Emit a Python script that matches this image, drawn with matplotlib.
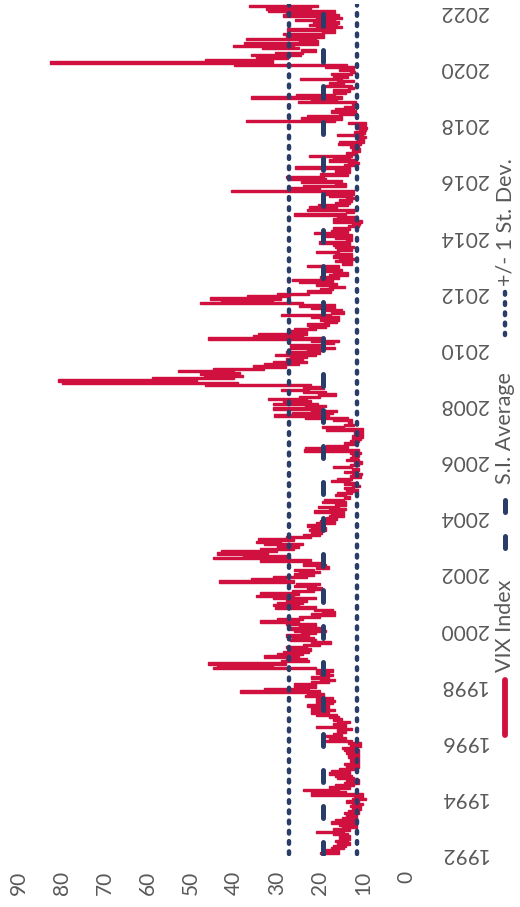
import matplotlib.pyplot as plt
import numpy as np

# --- Monthly VIX range (daily closes), Jan 1992 - Mar 2022 ---
vix_high = [
    20.0, 18.5, 17.5, 17.0, 16.0, 16.5, 15.5, 15.5, 17.0, 21.0, 17.0, 15.0,   # 1992
    15.5, 17.5, 16.5, 15.0, 14.0, 14.5, 13.5, 12.5, 13.0, 12.5, 14.0, 12.5,   # 1993
    12.0, 22.0, 22.0, 24.0, 18.0, 16.5, 14.5, 14.0, 16.0, 16.5, 18.0, 17.5,   # 1994
    15.5, 14.0, 14.5, 13.0, 13.0, 13.5, 13.5, 14.0, 14.5, 15.0, 13.0, 13.5,   # 1995
    18.5, 18.0, 19.0, 17.0, 16.0, 16.0, 21.0, 17.0, 16.0, 17.0, 18.0, 21.0,   # 1996
    22.0, 22.0, 22.0, 23.0, 21.0, 21.0, 21.0, 23.5, 23.0, 38.5, 33.0, 26.0,   # 1997
    26.0, 22.0, 20.0, 22.0, 20.0, 21.0, 21.0, 45.0, 44.0, 46.0, 29.0, 28.0,   # 1998
    33.0, 30.0, 28.5, 27.5, 28.0, 24.0, 22.0, 27.0, 26.5, 28.0, 24.5, 26.0,   # 1999
    27.0, 25.0, 28.0, 34.0, 30.0, 25.0, 22.0, 19.5, 21.5, 30.5, 31.0, 30.0,   # 2000
    28.0, 31.0, 35.0, 34.0, 26.5, 23.0, 26.0, 25.5, 43.5, 36.0, 31.0, 26.0,   # 2001
    25.0, 26.0, 21.0, 24.0, 24.0, 34.0, 45.0, 38.0, 44.0, 43.0, 34.0, 30.0,   # 2002
    33.0, 35.0, 34.5, 28.0, 24.0, 22.0, 22.5, 22.0, 23.0, 21.0, 20.0, 18.5,   # 2003
    18.0, 17.5, 21.5, 18.0, 20.5, 16.5, 19.5, 19.0, 14.5, 16.5, 16.0, 14.0,   # 2004
    14.5, 12.5, 14.5, 17.5, 16.0, 13.0, 12.5, 14.5, 12.5, 17.0, 13.0, 12.0,   # 2005
    14.0, 13.0, 12.5, 13.0, 23.8, 23.5, 18.5, 14.5, 13.0, 12.5, 12.5, 12.0,   # 2006
    12.0, 18.5, 19.5, 14.5, 13.5, 17.0, 23.5, 30.8, 26.5, 22.0, 31.0, 23.5,   # 2007
    31.0, 28.5, 32.2, 25.0, 20.5, 24.0, 29.0, 24.0, 46.7, 80.0, 80.9, 59.0,   # 2008
    47.0, 48.0, 53.0, 45.0, 35.5, 33.0, 31.0, 28.0, 27.0, 30.5, 28.0, 23.0,   # 2009
    27.0, 27.0, 19.0, 22.0, 46.0, 35.5, 34.5, 27.0, 26.0, 22.5, 23.0, 19.0,   # 2010
    20.0, 22.0, 29.0, 17.5, 18.5, 22.0, 25.0, 48.0, 43.0, 45.5, 37.0, 30.0,   # 2011
    23.0, 20.0, 18.0, 21.0, 25.0, 26.5, 20.0, 18.0, 17.0, 19.0, 18.5, 23.0,   # 2012
    15.0, 16.5, 15.5, 17.0, 16.5, 21.0, 16.0, 16.5, 17.0, 20.3, 14.0, 16.5,   # 2013
    18.5, 21.5, 17.5, 17.0, 13.5, 12.5, 17.0, 17.0, 16.0, 26.0, 14.0, 23.0,   # 2014
    22.5, 20.5, 16.5, 15.5, 14.0, 18.0, 19.0, 40.7, 27.0, 24.0, 16.5, 24.5,   # 2015
    27.0, 28.0, 20.0, 16.5, 16.5, 25.8, 14.5, 13.5, 18.0, 17.0, 22.5, 14.0,   # 2016
    12.5, 12.5, 13.0, 15.9, 15.5, 11.5, 11.0, 16.0, 12.0, 11.0, 11.5, 11.5,   # 2017
    13.5, 37.3, 24.5, 23.0, 15.5, 17.5, 16.5, 14.5, 12.5, 25.2, 22.0, 36.1,   # 2018
    25.5, 17.0, 17.0, 13.5, 18.8, 18.0, 16.0, 24.6, 17.0, 17.5, 13.0, 15.5,   # 2019
    18.9, 40.1, 82.7, 46.8, 35.0, 36.1, 30.5, 24.5, 33.5, 40.3, 37.6, 25.0,   # 2020
    37.2, 28.0, 28.5, 19.5, 27.6, 21.0, 22.5, 21.7, 25.7, 21.0, 28.6, 28.0,   # 2021
    32.0, 32.5, 36.5,                                                          # 2022
]
vix_low = [
    15.5, 15.5, 14.5, 14.0, 13.0, 13.5, 13.0, 13.0, 13.5, 14.5, 13.0, 11.5,   # 1992
    11.5, 11.5, 11.5, 11.5, 11.5, 11.0, 11.0, 10.5, 10.5, 10.0, 11.0, 9.3,    # 1993
    10.0, 10.0, 14.0, 15.5, 13.0, 12.0, 11.0, 11.0, 12.0, 12.5, 13.0, 13.0,   # 1994
    12.0, 11.0, 11.0, 11.0, 11.0, 11.0, 11.0, 11.0, 11.0, 11.5, 10.5, 10.5,   # 1995
    12.5, 14.0, 15.0, 15.0, 14.0, 12.5, 14.0, 14.0, 13.0, 15.0, 15.5, 16.0,   # 1996
    18.0, 16.5, 18.0, 18.0, 17.0, 16.5, 17.0, 19.0, 19.0, 20.0, 22.5, 21.0,   # 1997
    21.0, 18.0, 16.5, 18.0, 17.0, 18.0, 17.0, 21.0, 31.0, 28.0, 22.5, 23.0,   # 1998
    25.0, 24.0, 22.5, 22.0, 23.0, 20.0, 17.5, 21.0, 21.5, 22.5, 21.0, 18.5,   # 1999
    20.0, 21.0, 21.0, 25.0, 24.0, 20.0, 16.5, 16.5, 17.0, 21.0, 25.0, 24.0,   # 2000
    23.0, 21.0, 26.0, 25.0, 21.5, 19.5, 21.0, 20.0, 26.0, 28.0, 23.0, 21.5,   # 2001
    20.0, 21.5, 18.0, 18.5, 19.0, 22.0, 27.0, 28.0, 32.0, 30.0, 26.0, 25.0,   # 2002
    24.0, 29.0, 26.0, 22.0, 20.0, 19.5, 18.5, 18.5, 19.0, 16.5, 16.5, 16.0,   # 2003
    14.5, 14.5, 14.5, 14.0, 15.5, 14.0, 14.0, 14.5, 13.0, 14.0, 12.5, 11.2,   # 2004
    12.0, 10.7, 11.5, 13.0, 12.5, 10.5, 10.2, 11.5, 11.0, 12.5, 11.0, 10.2,   # 2005
    11.0, 11.2, 11.0, 10.5, 11.0, 13.5, 13.5, 12.0, 11.0, 10.5, 9.9, 10.0,    # 2006
    10.0, 9.9, 14.5, 12.0, 12.5, 12.5, 13.5, 18.0, 17.0, 16.0, 19.5, 18.5,    # 2007
    20.5, 22.0, 23.0, 20.0, 16.3, 18.5, 22.5, 19.0, 22.0, 39.0, 48.5, 40.0,   # 2008
    38.0, 38.5, 40.0, 33.0, 28.0, 25.0, 23.0, 24.0, 23.0, 21.0, 20.0, 19.5,   # 2009
    16.5, 19.5, 16.8, 15.5, 19.0, 24.0, 23.0, 23.0, 21.0, 18.5, 18.0, 16.0,   # 2010
    15.5, 15.5, 17.5, 14.5, 15.0, 16.5, 16.5, 24.0, 31.0, 29.0, 27.0, 22.5,   # 2011
    17.5, 17.0, 14.3, 16.0, 17.0, 17.0, 15.5, 13.5, 13.5, 15.0, 15.5, 15.5,   # 2012
    12.5, 12.5, 11.3, 12.5, 12.5, 15.5, 12.5, 12.0, 13.0, 13.0, 12.5, 12.5,   # 2013
    12.5, 13.5, 13.5, 13.0, 11.0, 10.6, 10.3, 12.0, 11.5, 14.0, 12.0, 11.5,   # 2014
    16.0, 13.5, 13.0, 12.5, 12.0, 12.5, 12.0, 12.0, 20.0, 14.0, 14.0, 15.0,   # 2015
    18.5, 19.0, 13.5, 13.0, 13.0, 13.0, 11.5, 11.0, 11.5, 13.0, 12.5, 11.3,   # 2016
    10.6, 10.6, 11.0, 10.5, 9.8, 9.7, 9.4, 9.9, 9.5, 9.2, 9.1, 9.2,           # 2017
    9.2, 16.5, 15.0, 15.0, 11.5, 11.6, 12.0, 11.5, 11.3, 11.6, 16.0, 15.0,    # 2018
    16.5, 14.0, 13.0, 12.0, 12.5, 14.5, 12.0, 15.0, 13.5, 12.5, 11.8, 12.0,   # 2019
    12.1, 13.7, 31.0, 31.0, 27.5, 24.5, 24.0, 21.0, 25.0, 26.0, 20.5, 20.5,   # 2020
    21.0, 19.0, 19.0, 16.5, 16.5, 15.0, 16.0, 15.5, 16.5, 15.0, 15.5, 16.5,   # 2021
    16.5, 22.0, 20.5,                                                          # 2022
]
start_year = 1992
si_average = 19.3   # since-inception average
st_dev = 8.0

value_ticks = [0, 10, 20, 30, 40, 50, 60, 70, 80, 90]
year_ticks = list(range(1992, 2023, 2))

red = '#D0103F'
navy = '#2A3D68'
grey = '#595959'

plt.rcParams['font.family'] = ['Lato', 'DejaVu Sans']

months = np.arange(len(vix_high))
t = start_year + (months + 0.5) / 12
t_end = start_year + len(vix_high) / 12

fig = plt.figure(figsize=(5.2, 9.07), dpi=100)
# the chart is drawn turned on its side: years run up, values run left
ax = fig.add_axes([19 / 520, 0.0567, 387 / 520, 0.9393])

# one bar per month spanning that month's low..high
ax.barh(t, np.subtract(vix_high, vix_low), left=vix_low, height=1 / 12,
        color=red, edgecolor=red, linewidth=1.0)

ax.plot([si_average, si_average], [start_year, t_end], color=navy, lw=3.6,
        dashes=(2.4, 4.8), dash_capstyle='round')
for v in (si_average - st_dev, si_average + st_dev):
    ax.plot([v, v], [start_year, t_end], color=navy, lw=3.2,
            dashes=(0.6, 1.7), dash_capstyle='round')

ax.set_xlim(90, 0)
ax.set_ylim(1991.95, 2022.3)
ax.set_xticks(value_ticks)
ax.set_xticklabels([str(v) for v in value_ticks], rotation=90, fontsize=15, color=grey)
ax.set_yticks(year_ticks)
ax.yaxis.tick_right()
ax.set_yticklabels([str(y) for y in year_ticks], rotation=180, fontsize=15,
                   color=grey, ha='left', va='center')
ax.tick_params(axis='x', length=0, pad=11)
ax.tick_params(axis='y', length=0, pad=24)
for s in ax.spines.values():
    s.set_visible(False)

# --- legend (vertical, at the right) ---
lax = fig.add_axes([0, 0, 1, 1])
lax.set_xlim(0, 520)
lax.set_ylim(907, 0)
lax.axis('off')
lax.patch.set_alpha(0)

lx = 505
lax.plot([lx, lx], [680, 735], color=red, lw=4.2, solid_capstyle='round')
lax.text(lx, 672, 'VIX Index', rotation=90, rotation_mode='anchor',
         ha='left', va='center', fontsize=15.5, color=grey)
lax.plot([lx, lx], [500, 550], color=navy, lw=3.6, dashes=(2.4, 4.8),
         dash_capstyle='round')
lax.text(lx, 484, 'S.I. Average', rotation=90, rotation_mode='anchor',
         ha='left', va='center', fontsize=15.5, color=grey)
lax.plot([lx, lx], [292, 335], color=navy, lw=3.2, dashes=(0.6, 1.7),
         dash_capstyle='round')
lax.text(lx, 286, '+/- 1 St. Dev.', rotation=90, rotation_mode='anchor',
         ha='left', va='center', fontsize=15.5, color=grey)

plt.savefig('out.png', dpi=100)
